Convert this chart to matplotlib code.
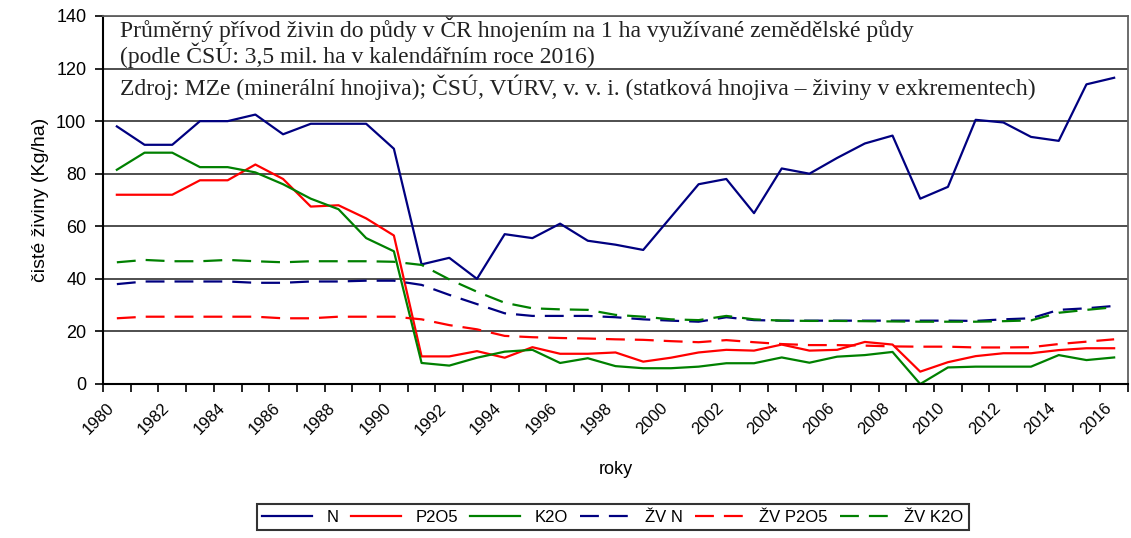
import matplotlib
matplotlib.use("Agg")
import matplotlib.pyplot as plt
from matplotlib.ticker import FixedLocator, NullFormatter

plt.rcParams["font.family"] = ["Liberation Sans", "DejaVu Sans"]

# data (kg/ha of pure nutrients)
years = list(range(1980, 2017))
n_min = [98, 91, 91, 100, 100, 102.5, 95, 99, 99, 99, 89.5,
         45.5, 48, 40, 57, 55.5, 61, 54.5, 53, 51, 63.5,
         76, 78, 65, 82, 80, 86, 91.5, 94.5, 70.5, 75,
         100.5, 99.5, 94, 92.5, 114, 116.5]
p2o5_min = [72, 72, 72, 77.5, 77.5, 83.5, 78, 67.5, 68, 63, 56.5,
            10.5, 10.5, 12.5, 10, 14, 11.5, 11.5, 12, 8.5, 10,
            12, 13, 12.7, 15, 12.7, 13, 16, 15, 4.7, 8.3,
            10.6, 11.7, 11.7, 12.9, 13.6, 13.6]
k2o_min = [81.5, 88, 88, 82.5, 82.5, 80.5, 76, 70.5, 66.5, 55.5, 50.5,
           8, 7, 10, 12.3, 13, 8, 9.8, 6.8, 6, 6,
           6.6, 7.9, 7.9, 10.1, 8.1, 10.4, 11, 12.2, 0, 6.3,
           6.6, 6.6, 6.6, 11, 9.1, 10.1]
n_zv = [38, 39, 39, 39, 39, 38.5, 38.5, 39, 39, 39.3, 39.3,
        37.7, 33.9, 30.4, 26.9, 25.9, 25.9, 25.9, 25.4, 24.6, 24.1,
        23.7, 25.4, 24.3, 24.1, 24.1, 24.1, 24.1, 24.1, 24.1, 24.1,
        24, 24.6, 25, 28.2, 28.8, 29.7]
p2o5_zv = [25, 25.6, 25.6, 25.6, 25.6, 25.6, 25, 25, 25.6, 25.6, 25.6,
           24.6, 22.4, 20.8, 18.3, 17.8, 17.5, 17.3, 17, 16.8, 16.3,
           15.9, 16.7, 15.9, 15.2, 14.8, 14.8, 14.6, 14.3, 14.2, 14.2,
           13.9, 13.9, 14, 15.2, 16.1, 17]
k2o_zv = [46.3, 47.2, 46.7, 46.7, 47.2, 46.7, 46.3, 46.7, 46.7, 46.7, 46.5,
          45.3, 39.8, 35.1, 30.9, 28.8, 28.4, 28.2, 26.3, 25.6, 24.6,
          24.3, 25.9, 24.6, 24.1, 24, 24, 23.9, 23.8, 23.7, 23.7,
          23.7, 23.9, 24.2, 27.1, 28.2, 29.2]

series = [
    ("N", n_min, "#000080", "-"),
    ("P2O5", p2o5_min, "#FF0000", "-"),
    ("K2O", k2o_min, "#008000", "-"),
    ("ŽV N", n_zv, "#000080", "--"),
    ("ŽV P2O5", p2o5_zv, "#FF0000", "--"),
    ("ŽV K2O", k2o_zv, "#008000", "--"),
]

fig = plt.figure(figsize=(11.31, 5.38), dpi=100)
fig.patch.set_facecolor("white")
ax = fig.add_axes([103 / 1131, 1 - 384 / 538, 1025 / 1131, 368 / 538])

handles = []
for name, vals, color, ls in series:
    line, = ax.plot(years, vals, color=color, linewidth=1.6, linestyle=ls, label=name)
    if ls == "--":
        line.set_dashes((8.5, 4.5))
    handles.append(line)

ax.set_xlim(years[0] - 0.5, years[-1] + 0.5)
ax.set_ylim(0, 140)
ax.set_yticks(range(0, 141, 20))
ax.yaxis.grid(True, color="#404040", linewidth=1.3)
ax.set_axisbelow(True)

# category axis: ticks on boundaries, labels on every second year
ax.xaxis.set_major_locator(FixedLocator([y - 0.5 for y in years] + [years[-1] + 0.5]))
ax.xaxis.set_major_formatter(NullFormatter())
ax.xaxis.set_minor_locator(FixedLocator(years[::2]))
ax.set_xticklabels([str(y) for y in years[::2]], minor=True, rotation=45,
                   ha="right", va="top", fontsize=12)
ax.tick_params(axis="x", which="major", direction="out", length=6, width=1.2)
ax.tick_params(axis="x", which="minor", length=0, pad=12)
ax.tick_params(axis="y", direction="out", length=6, width=1.2, labelsize=13, pad=6)

for side in ("left", "bottom"):
    ax.spines[side].set_color("black")
    ax.spines[side].set_linewidth(1.5)
for side in ("top", "right"):
    ax.spines[side].set_color("#606060")
    ax.spines[side].set_linewidth(1.3)

ax.set_ylabel("čisté živiny (Kg/ha)", fontsize=14, labelpad=5)
ax.set_xlabel("roky", fontsize=13, labelpad=17)

serif = ["Liberation Serif", "DejaVu Serif"]
tx = 17 / 1025
ax.text(tx, 0.943, "Průměrný přívod živin do půdy v ČR hnojením na 1 ha využívané zemědělské půdy",
        transform=ax.transAxes, family=serif, fontsize=17, va="baseline", color="#222222")
ax.text(tx, 0.872, "(podle ČSÚ: 3,5 mil. ha v kalendářním roce 2016)",
        transform=ax.transAxes, family=serif, fontsize=17, va="baseline", color="#222222")
ax.text(tx, 0.785, "Zdroj: MZe (minerální hnojiva); ČSÚ, VÚRV, v. v. i. (statková hnojiva – živiny v exkrementech)",
        transform=ax.transAxes, family=serif, fontsize=17, va="baseline", color="#222222")

leg = fig.legend(handles=handles, loc="center", bbox_to_anchor=(613 / 1131, 1 - 517 / 538),
                 ncol=6, fontsize=12, handlelength=3.0, handletextpad=0.85,
                 columnspacing=0.75, fancybox=False, borderpad=0.35)
leg.get_frame().set_edgecolor("black")
leg.get_frame().set_linewidth(1.5)

fig.savefig("out.png", dpi=100, facecolor="white")
